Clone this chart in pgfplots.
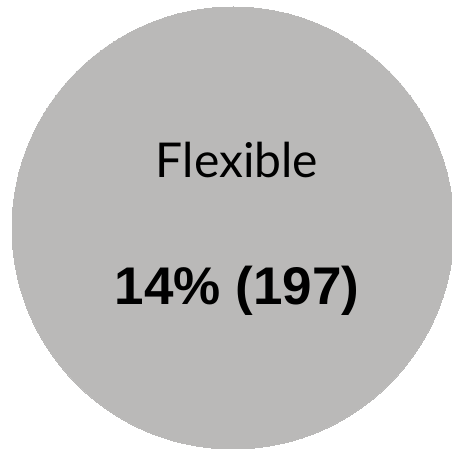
\documentclass[border=0pt]{standalone}
\usepackage{fontspec}
\setmainfont{Lato}
\newfontfamily\boldsans{Liberation Sans}
\usepackage{pgfplots}
\pgfplotsset{compat=1.18}
\definecolor{bubble}{HTML}{BAB9B8}
\begin{document}
\begin{tikzpicture}
\begin{axis}[
  width=452pt, height=455pt, scale only axis,
  hide axis,
  xmin=0, xmax=452, ymin=0, ymax=455,
  clip marker paths=true,
  clip mode=global,
]
\addplot[only marks, mark=*, mark size=221pt, color=bubble,
  mark options={draw=bubble, fill=bubble, line width=0pt}] coordinates {(233,227)};
\node[anchor=base, font=\fontsize{48}{48}\selectfont] at (axis cs:237,277) {Flexible};
\node[anchor=base, font=\boldsans\bfseries\fontsize{53}{53}\selectfont] at (axis cs:237,150) {14\% (197)};
\end{axis}
\pgfresetboundingbox
\path[use as bounding box] (current axis.south west) rectangle (current axis.north east);
\end{tikzpicture}
\end{document}
